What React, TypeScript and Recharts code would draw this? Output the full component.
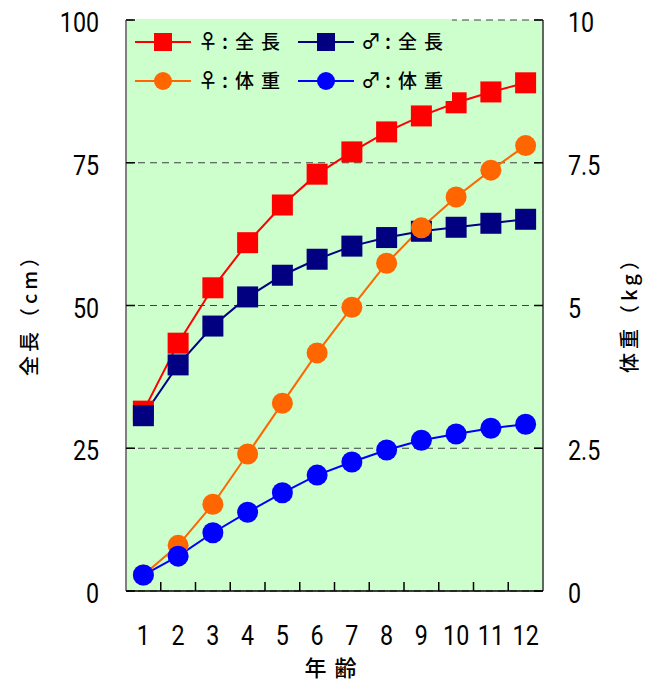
import React from "react";
import {
  ComposedChart,
  Line,
  XAxis,
  YAxis,
  CartesianGrid,
  Label,
} from "recharts";

const ages = ["1", "2", "3", "4", "5", "6", "7", "8", "9", "10", "11", "12"];
const femaleLength = [31.5, 43.4, 53.1, 61.0, 67.6, 73.0, 76.9, 80.4, 83.2, 85.5, 87.4, 89.0];
const maleLength = [30.7, 39.6, 46.4, 51.5, 55.3, 58.1, 60.4, 61.9, 63.0, 63.7, 64.4, 65.1];
const femaleWeight = [0.28, 0.8, 1.52, 2.4, 3.29, 4.17, 4.97, 5.74, 6.36, 6.9, 7.37, 7.8];
const maleWeight = [0.28, 0.61, 1.02, 1.38, 1.72, 2.03, 2.26, 2.47, 2.64, 2.75, 2.85, 2.92];

const lengthTicks = [0, 25, 50, 75, 100];
const weightTicks = [0, 2.5, 5, 7.5, 10];

const data = ages.map((age, i) => ({
  age,
  fLen: femaleLength[i],
  mLen: maleLength[i],
  fWt: femaleWeight[i],
  mWt: maleWeight[i],
}));

const W = 659;
const H = 683;
const PLOT_LEFT = 126;
const PLOT_RIGHT = 543;
const PLOT_TOP = 20;
const PLOT_BOTTOM = 591;
const HALF_BAND = (PLOT_RIGHT - PLOT_LEFT) / ages.length / 2;

const NUM_FONT = "Roboto";
const JP_FONT = "'Noto Sans CJK JP'";

const RED = "#ff0000";
const NAVY = "#000080";
const ORANGE = "#ff6600";
const BLUE = "#0000ff";
const BG = "#ccffcc";

const Num = ({ x, y, anchor, text }: any) => (
  <text
    transform={`translate(${x} ${y}) scale(0.83 1)`}
    textAnchor={anchor}
    fontFamily={NUM_FONT}
    fontSize={28}
    fill="#000"
  >
    {text}
  </text>
);

const LeftTick = ({ x, y, payload }: any) => (
  <g>
    <line x1={x} x2={x + 9} y1={y} y2={y} stroke="#000" strokeWidth={1.5} />
    <Num x={x - 27} y={y + 12} anchor="end" text={String(payload.value)} />
  </g>
);

const RightTick = ({ x, y, payload }: any) => (
  <g>
    <line x1={x - 9} x2={x} y1={y} y2={y} stroke="#000" strokeWidth={1.5} />
    <Num x={x + 25} y={y + 12} anchor="start" text={String(payload.value)} />
  </g>
);

const BottomTick = ({ x, y, payload, index }: any) => (
  <g>
    {index < ages.length - 1 && (
      <line
        x1={x + HALF_BAND}
        x2={x + HALF_BAND}
        y1={y}
        y2={y - 9}
        stroke="#000"
        strokeWidth={1.5}
      />
    )}
    <Num x={x} y={y + 54} anchor="middle" text={payload.value} />
  </g>
);

const squareDot = (color: string) => (p: any) => (
  <rect
    key={`s-${color}-${p.index}`}
    x={p.cx - 10.5}
    y={p.cy - 10.5}
    width={21}
    height={21}
    fill={color}
  />
);

const circleDot = (color: string) => (p: any) => (
  <circle key={`c-${color}-${p.index}`} cx={p.cx} cy={p.cy} r={10.5} fill={color} />
);

// vertical axis titles, rotated to read bottom to top
const VTitle = (text: string, cx: number) => (props: any) => {
  const cy = props.viewBox.y + props.viewBox.height / 2 + 4;
  return (
    <text
      transform={`translate(${cx} ${cy}) rotate(-90)`}
      textAnchor="middle"
      dominantBaseline="central"
      fontFamily={JP_FONT}
      fontSize={20}
      fontWeight={500}
      letterSpacing={4}
      fill="#000"
    >
      {text}
    </text>
  );
};

const legendItems = [
  { sign: "♀", label: "全長", color: RED, shape: "square", col: 0, row: 0 },
  { sign: "♂", label: "全長", color: NAVY, shape: "square", col: 1, row: 0 },
  { sign: "♀", label: "体重", color: ORANGE, shape: "circle", col: 0, row: 1 },
  { sign: "♂", label: "体重", color: BLUE, shape: "circle", col: 1, row: 1 },
];

const LegendOverlay = () => (
  <svg
    width={W}
    height={H}
    style={{ position: "absolute", left: 0, top: 0, pointerEvents: "none" }}
  >
    <rect x={136} y={19} width={316} height={82} fill={BG} />
    {legendItems.map((it, i) => {
      const x0 = 135 + it.col * 163;
      const cy = 42 + it.row * 39;
      return (
        <g key={i}>
          <line x1={x0} x2={x0 + 56} y1={cy} y2={cy} stroke={it.color} strokeWidth={2} />
          {it.shape === "square" ? (
            <rect x={x0 + 19} y={cy - 9} width={18} height={18} fill={it.color} />
          ) : (
            <circle cx={x0 + 28} cy={cy} r={9} fill={it.color} />
          )}
          <text x={x0 + 63} y={cy + 7} fontFamily={JP_FONT} fontSize={20} fontWeight={500} fill="#000">
            {it.sign}
          </text>
          <text x={x0 + 87} y={cy + 7} fontFamily={JP_FONT} fontSize={20} fontWeight={500} fill="#000">
            :
          </text>
          <text
            x={x0 + 100}
            y={cy + 7}
            fontFamily={JP_FONT}
            fontSize={19}
            fontWeight={500}
            letterSpacing={7}
            fill="#000"
          >
            {it.label}
          </text>
        </g>
      );
    })}
  </svg>
);

export default function App() {
  return (
    <div style={{ position: "absolute", left: 0, top: 0, width: W, height: H, background: "#fff" }}>
      <ComposedChart
        width={W}
        height={H}
        data={data}
        margin={{ top: PLOT_TOP, right: 0, bottom: 0, left: 0 }}
      >
        <CartesianGrid
          yAxisId="len"
          vertical={false}
          fill={BG}
          stroke="#404040"
          strokeDasharray="7 5"
        />
        <XAxis
          dataKey="age"
          scale="band"
          height={H - PLOT_BOTTOM}
          axisLine={{ stroke: "#000", strokeWidth: 1.5 }}
          tickLine={false}
          tickSize={0}
          tickMargin={0}
          interval={0}
          tick={<BottomTick />}
        >
          <Label
            content={() => (
              <text
                x={(PLOT_LEFT + PLOT_RIGHT) / 2}
                y={676}
                textAnchor="middle"
                fontFamily={JP_FONT}
                fontSize={22}
                fontWeight={500}
                letterSpacing={8}
                fill="#000"
              >
                年齢
              </text>
            )}
          />
        </XAxis>
        <YAxis
          yAxisId="len"
          width={PLOT_LEFT}
          domain={[0, 100]}
          ticks={lengthTicks}
          axisLine={{ stroke: "#808080", strokeWidth: 2 }}
          tickLine={false}
          tickSize={0}
          tickMargin={0}
          tick={<LeftTick />}
        >
          <Label content={VTitle("全長（cm）", 28)} />
        </YAxis>
        <YAxis
          yAxisId="wt"
          orientation="right"
          width={W - PLOT_RIGHT}
          domain={[0, 10]}
          ticks={weightTicks}
          axisLine={{ stroke: "#333", strokeWidth: 1.5 }}
          tickLine={false}
          tickSize={0}
          tickMargin={0}
          tick={<RightTick />}
        >
          <Label content={VTitle("体重（kg）", 628)} />
        </YAxis>
        <Line
          yAxisId="len"
          dataKey="fLen"
          stroke={RED}
          strokeWidth={2}
          dot={squareDot(RED)}
          activeDot={false}
          isAnimationActive={false}
        />
        <Line
          yAxisId="len"
          dataKey="mLen"
          stroke={NAVY}
          strokeWidth={2}
          dot={squareDot(NAVY)}
          activeDot={false}
          isAnimationActive={false}
        />
        <Line
          yAxisId="wt"
          dataKey="fWt"
          stroke={ORANGE}
          strokeWidth={2}
          dot={circleDot(ORANGE)}
          activeDot={false}
          isAnimationActive={false}
        />
        <Line
          yAxisId="wt"
          dataKey="mWt"
          stroke={BLUE}
          strokeWidth={2}
          dot={circleDot(BLUE)}
          activeDot={false}
          isAnimationActive={false}
        />
      </ComposedChart>
      <LegendOverlay />
    </div>
  );
}
